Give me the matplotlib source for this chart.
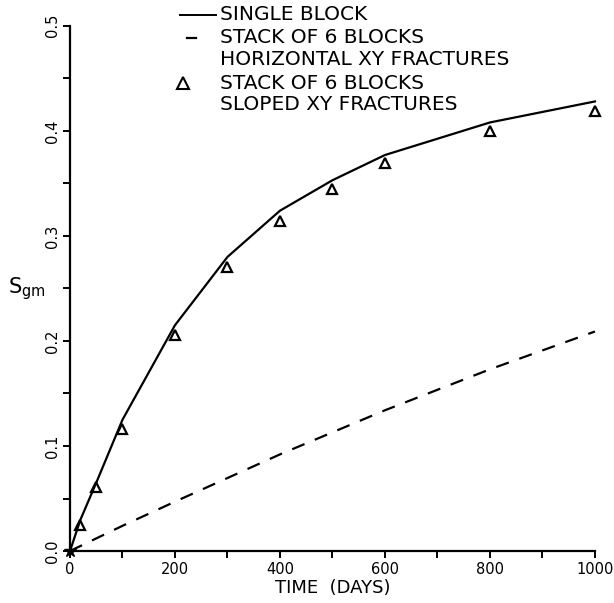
import numpy as np
import matplotlib
matplotlib.use("Agg")
import matplotlib.pyplot as plt
from matplotlib.lines import Line2D
from matplotlib.ticker import MultipleLocator, FormatStrFormatter

plt.rcParams['font.family'] = ['DejaVu Sans']
plt.rcParams['mathtext.default'] = 'regular'

# single block (solid line)
t_single = [0, 20, 50, 100, 200, 300, 400, 500, 600, 800, 1000]
s_single = [0.0, 0.030, 0.065, 0.125, 0.215, 0.280, 0.324, 0.353, 0.377, 0.408, 0.428]

# stack of 6 blocks, horizontal xy fractures (dashed line)
t_horiz = [0, 100, 200, 400, 600, 800, 1000]
s_horiz = [0.0, 0.024, 0.047, 0.092, 0.134, 0.173, 0.209]

# stack of 6 blocks, sloped xy fractures (triangles)
t_sloped = [20, 50, 100, 200, 300, 400, 500, 600, 800, 1000]
s_sloped = [0.025, 0.061, 0.116, 0.206, 0.270, 0.314, 0.345, 0.369, 0.400, 0.419]

legend_rows = ["SINGLE BLOCK",
               "STACK OF 6 BLOCKS",
               "HORIZONTAL XY FRACTURES",
               "STACK OF 6 BLOCKS",
               "SLOPED XY FRACTURES"]

fig = plt.figure(figsize=(6.14, 6.03), dpi=100)
ax = fig.add_axes([0.114, 0.0862, 0.855, 0.871])

ax.plot(t_single, s_single, color='black', lw=1.6, clip_on=False)
ax.plot(t_horiz, s_horiz, color='black', lw=1.6, dashes=(6, 5), clip_on=False)
ax.plot(t_sloped, s_sloped, ls='none', marker='^', ms=7.5, mfc='none',
        mec='black', mew=1.6, clip_on=False)
ax.plot([0], [0], marker='*', ms=9, color='black', clip_on=False)

ax.set_xlim(0, 1000)
ax.set_ylim(0, 0.5)
for s in ['top', 'right']:
    ax.spines[s].set_visible(False)
for s in ['left', 'bottom']:
    ax.spines[s].set_linewidth(1.6)

ax.xaxis.set_major_locator(MultipleLocator(200))
ax.xaxis.set_minor_locator(MultipleLocator(100))
ax.yaxis.set_major_locator(MultipleLocator(0.1))
ax.yaxis.set_minor_locator(MultipleLocator(0.05))
ax.yaxis.set_major_formatter(FormatStrFormatter('%.1f'))
ax.tick_params(which='both', direction='out', length=5, width=1.4, labelsize=10.5)
ax.tick_params(axis='x', pad=3)
ax.tick_params(axis='y', pad=2)
for lab in ax.get_yticklabels():
    lab.set_rotation(90)
    lab.set_va('center')

ax.set_xlabel('TIME  (DAYS)', fontsize=13, labelpad=1)
ax.text(-0.082, 0.499, '$S_{gm}$', transform=ax.transAxes, fontsize=15,
        ha='center', va='center')

# legend drawn by hand
tx = 0.285
rows_y = [1.021, 0.977, 0.935, 0.891, 0.850]
for txt, yy in zip(legend_rows, rows_y):
    ax.text(tx, yy, txt, transform=ax.transAxes, fontsize=14.5,
            va='center', ha='left', clip_on=False)
ax.add_line(Line2D([0.21, 0.279], [rows_y[0], rows_y[0]], transform=ax.transAxes,
                   color='black', lw=1.4, clip_on=False))
ax.add_line(Line2D([0.223, 0.24], [rows_y[1], rows_y[1]], transform=ax.transAxes,
                   color='black', lw=1.6, clip_on=False))
ax.add_line(Line2D([0.215], [rows_y[3]], transform=ax.transAxes, ls='none',
                   marker='^', ms=8, mfc='none', mec='black', mew=1.5, clip_on=False))

fig.savefig('out.png', dpi=100)
